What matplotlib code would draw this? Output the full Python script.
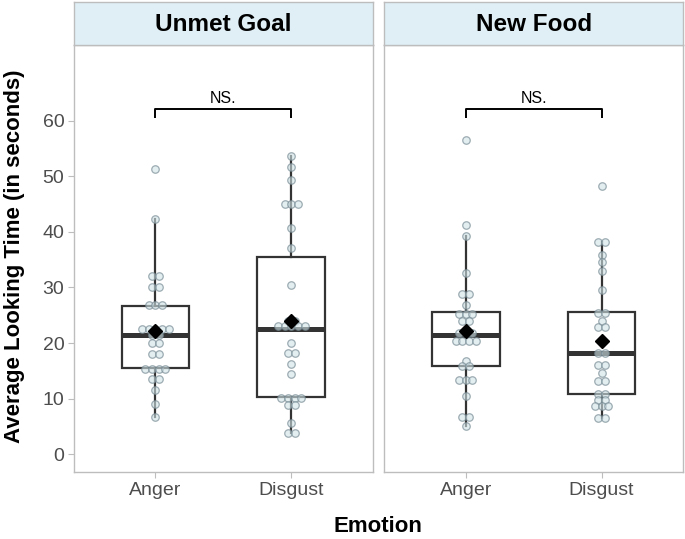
import matplotlib
matplotlib.use("Agg")
import matplotlib.pyplot as plt
from matplotlib import font_manager
import numpy as np

# ---------------- data ----------------
panels = ["Unmet Goal", "New Food"]
emotions = ["Anger", "Disgust"]

unmet_anger = [51.3, 42.3, 32.1, 32.1, 30.1, 30.1, 26.8, 26.8, 26.8,
               22.5, 22.5, 22.5, 22.5, 22.5, 21.4, 21.4, 20.1, 20.1, 18.0, 18.0,
               15.4, 15.4, 15.4, 15.4, 13.5, 13.5, 11.6, 9.1, 6.7]
unmet_disgust = [53.6, 51.6, 49.4, 45.0, 45.0, 45.0, 40.7, 37.1, 30.5,
                 24.0, 24.0, 23.1, 23.1, 23.1, 23.1, 23.1, 20.0, 18.2, 18.2,
                 16.3, 14.5, 10.1, 10.1, 10.1, 10.1, 8.8, 8.8, 5.6, 3.8, 3.8]
food_anger = [56.5, 41.2, 39.2, 32.6, 28.8, 28.8, 26.9, 25.2, 25.2, 25.2,
              24.0, 24.0, 21.8, 21.8, 21.8, 20.4, 20.4, 20.4, 20.4, 16.8,
              15.8, 15.8, 13.4, 13.4, 13.4, 10.5, 6.7, 6.7, 5.1]
food_disgust = [48.3, 38.2, 38.2, 35.8, 34.6, 32.9, 29.6, 25.4, 25.4, 24.0,
                22.8, 22.8, 20.3, 18.2, 18.2, 16.1, 16.1, 14.7, 13.1, 13.1,
                10.9, 10.9, 9.8, 9.8, 8.7, 8.7, 8.7, 6.6, 6.6]

# box summary values: [Anger, Disgust] per panel
box_q1 = [[15.6, 10.3], [15.8, 10.9]]
box_median = [[21.4, 22.5], [21.5, 18.2]]
box_q3 = [[26.7, 35.5], [25.5, 25.6]]
whisker_low = [[6.7, 3.8], [5.1, 6.6]]
whisker_high = [[42.3, 53.6], [39.2, 38.2]]
group_means = [[22.2, 24.0], [22.1, 20.3]]

bracket_label = "NS."
bracket_y = 62.1
bracket_drop = 1.7

y_ticks = [0, 10, 20, 30, 40, 50, 60]

points = [[unmet_anger, unmet_disgust], [food_anger, food_disgust]]

# ---------------- fonts ----------------
names = {f.name for f in font_manager.fontManager.ttflist}
narrow = "Liberation Sans Narrow" if "Liberation Sans Narrow" in names else "Liberation Sans"
plt.rcParams["font.family"] = ["Liberation Sans", "DejaVu Sans"]

W, H = 685, 539
fig = plt.figure(figsize=(W / 100, H / 100), dpi=100)

def fx(px):
    return px / W

def fy(py):
    return 1 - py / H

panel_left = [74, 384.3]
panel_w = 298.7
panel_top, panel_bot = 45, 472.3
strip_top = 2

ylim = (-3.24, 73.6)
xlim = (0.4, 2.6)
border = "#BDBDBD"
grid_text = "#4D4D4D"

dot_step = 0.049

for p, name in enumerate(panels):
    ax = fig.add_axes([fx(panel_left[p]), fy(panel_bot), panel_w / W, (panel_bot - panel_top) / H])
    ax.set_xlim(*xlim)
    ax.set_ylim(*ylim)
    for s in ax.spines.values():
        s.set_color(border)
        s.set_linewidth(1.0)

    stats = []
    for e in range(2):
        stats.append(dict(med=box_median[p][e], q1=box_q1[p][e], q3=box_q3[p][e],
                          whislo=whisker_low[p][e], whishi=whisker_high[p][e],
                          fliers=[], label=emotions[e]))
    ax.bxp(stats, positions=[1, 2], widths=0.5, showfliers=False, showcaps=False,
           patch_artist=True,
           boxprops=dict(facecolor="none", edgecolor="#333333", linewidth=1.6),
           whiskerprops=dict(color="#333333", linewidth=1.6),
           medianprops=dict(color="#333333", linewidth=3.6, solid_capstyle="butt"),
           zorder=2)

    # dot plot, centered stacks
    for e in range(2):
        vals = points[p][e]
        uniq = []
        for v in vals:
            if v not in uniq:
                uniq.append(v)
        for v in uniq:
            n = vals.count(v)
            offs = (np.arange(n) - (n - 1) / 2) * dot_step
            ax.plot(e + 1 + offs, [v] * n, linestyle="none", marker="o", markersize=5.4,
                    markerfacecolor=(0.82, 0.89, 0.91, 0.6),
                    markeredgecolor=(0.47, 0.55, 0.58, 0.7), markeredgewidth=0.9,
                    zorder=3)
        ax.plot([e + 1], [group_means[p][e]], linestyle="none", marker="D", markersize=6.8,
                color="black", zorder=4)

    # bracket
    ax.plot([1, 1, 2, 2], [bracket_y - bracket_drop, bracket_y, bracket_y, bracket_y - bracket_drop],
            color="black", linewidth=1.4, zorder=4, solid_capstyle="butt")
    ax.text(1.5, bracket_y + 0.5, bracket_label, ha="center", va="bottom", fontsize=11.5,
            color="black")

    ax.set_xticks([1, 2])
    ax.set_xticklabels(emotions, fontsize=14, color=grid_text)
    ax.tick_params(axis="x", length=4, color=border, pad=3)
    if p == 0:
        ax.set_yticks(y_ticks)
        ax.set_yticklabels([str(t) for t in y_ticks], fontsize=14, color=grid_text)
        ax.tick_params(axis="y", length=4, color=border, pad=3)
    else:
        ax.set_yticks([])

    # strip
    sax = fig.add_axes([fx(panel_left[p]), fy(panel_top), panel_w / W, (panel_top - strip_top) / H])
    sax.set_facecolor("#DFEFF5")
    sax.set_xticks([])
    sax.set_yticks([])
    for s in sax.spines.values():
        s.set_color(border)
        s.set_linewidth(1.0)
    sax.text(0.5, 0.47, name, ha="center", va="center", fontsize=17.5, fontweight="bold",
             family=[narrow, "Liberation Sans", "DejaVu Sans"], transform=sax.transAxes)

fig.text(fx(378), fy(527), "Emotion", ha="center", va="center", fontsize=16, fontweight="bold")
fig.text(fx(15), fy(256), "Average Looking Time (in seconds)", ha="center", va="center",
         rotation=90, fontsize=16, fontweight="bold")

fig.savefig("out.png", dpi=100)
